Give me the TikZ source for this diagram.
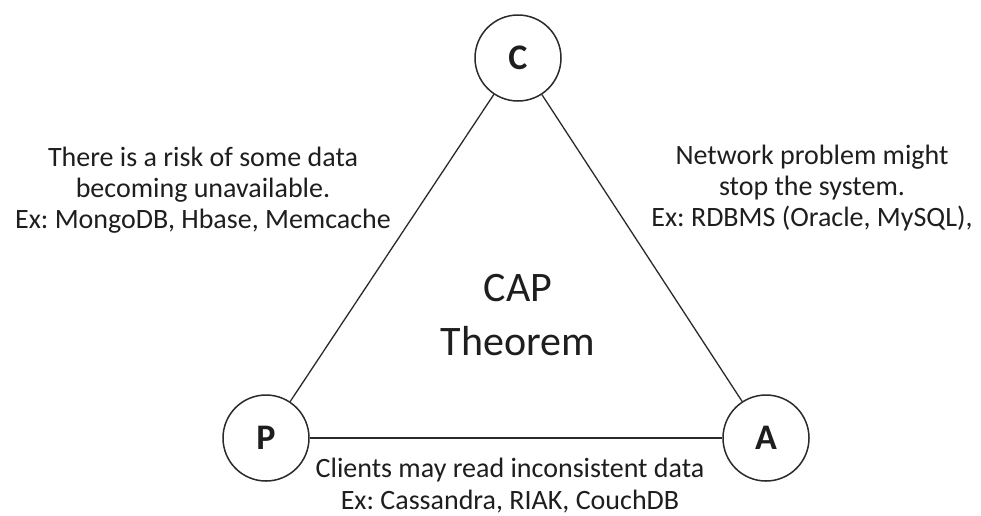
\documentclass[tikz,border=0pt]{standalone}
\usepackage{fontspec}
\setmainfont{Carlito}
\usepackage{xcolor}
\usetikzlibrary{positioning}
\definecolor{ink}{HTML}{1E1E1E}
\definecolor{edge}{HTML}{2A2A2A}
\frenchspacing

\begin{document}
\begin{tikzpicture}[x=1pt,y=-1pt,
  corner/.style={circle,draw=edge,line width=1.5pt,fill=white,minimum size=86pt,inner sep=0pt,
    font=\fontsize{36}{36}\selectfont\bfseries,text=ink},
  side/.style={line width=1.3pt,color=edge},
  note/.style={align=center,text=ink,font=\fontsize{28}{31}\selectfont},
  title/.style={align=center,text=ink,font=\fontsize{42}{54}\selectfont}]
\useasboundingbox (0,0) rectangle (981,515);
\node[corner] (C) at (518,58) {C};
\node[corner] (P) at (266,438) {P};
\node[corner] (A) at (766,438) {A};
\draw[side] (C)--(P); \draw[side] (C)--(A); \draw[side] (P)--(A);
\node[title] (cap) at (518,315) {CAP\\Theorem};
\node[note] (cp) at (203,190) {There is a risk of some data\\becoming unavailable.\\Ex: MongoDB, Hbase, Memcache};
\node[note] (ca) at (812,188) {Network problem might\\stop the system.\\Ex: RDBMS (Oracle, MySQL),};
\node[note,font=\fontsize{28}{32}\selectfont] (pa) at (510,486) {Clients may read inconsistent data\\Ex: Cassandra, RIAK, CouchDB};
\end{tikzpicture}
\end{document}
